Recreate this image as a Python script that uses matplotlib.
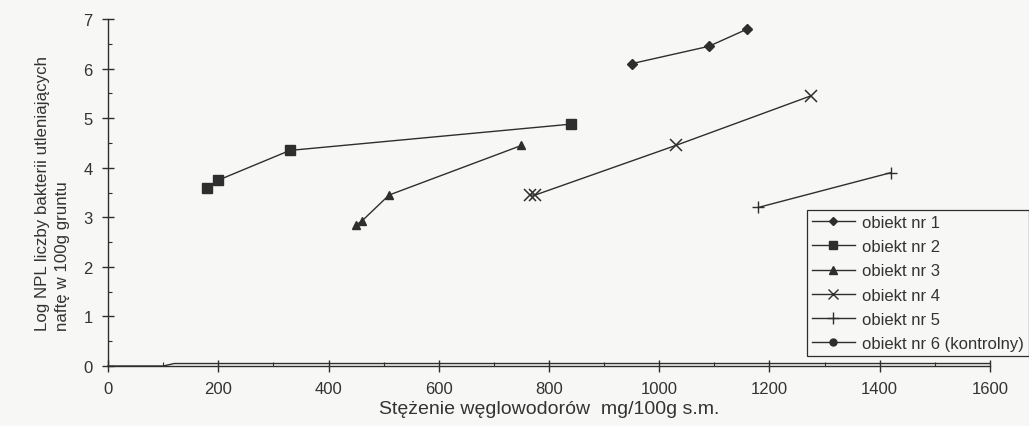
import numpy as np
import matplotlib
matplotlib.use('Agg')
import matplotlib.pyplot as plt
from matplotlib.lines import Line2D
from matplotlib.ticker import MultipleLocator

plt.rcParams['font.family'] = ['Liberation Sans', 'DejaVu Sans']

# dane
ob1_x = [950, 1090, 1160]
ob1_y = [6.1, 6.45, 6.8]
ob2_x = [180, 200, 330, 840]
ob2_y = [3.6, 3.75, 4.35, 4.88]
ob3_x = [450, 460, 510, 750]
ob3_y = [2.85, 2.92, 3.45, 4.45]
ob4_x = [765, 775, 1030, 1275]
ob4_y = [3.45, 3.45, 4.45, 5.45]
ob5_x = [1180, 1420]
ob5_y = [3.2, 3.9]
ob6_x = [0, 100, 120, 1600]
ob6_y = [0.0, 0.0, 0.05, 0.05]

labels = ['obiekt nr 1', 'obiekt nr 2', 'obiekt nr 3', 'obiekt nr 4',
          'obiekt nr 5', 'obiekt nr 6 (kontrolny)']

bg = '#f7f7f5'
ink = '#2e2e2e'
txt = '#333333'

fig = plt.figure(figsize=(10.29, 4.27), dpi=100, facecolor=bg)
ax = fig.add_axes([0.105, 0.1405, 0.857, 0.8125], facecolor=bg)

ax.plot(ob1_x, ob1_y, color=ink, lw=1.0, marker='D', ms=5, mfc=ink, mec=ink)
ax.plot(ob2_x, ob2_y, color=ink, lw=1.0, marker='s', ms=6.5, mfc=ink, mec=ink)
ax.plot(ob3_x, ob3_y, color=ink, lw=1.0, marker='^', ms=6, mfc=ink, mec=ink)
ax.plot(ob4_x, ob4_y, color=ink, lw=1.0, marker='x', ms=8, mew=1.1, mec=ink)
ax.plot(ob5_x, ob5_y, color=ink, lw=1.0, marker='+', ms=9, mew=1.0, mec=ink)
ax.plot(ob6_x, ob6_y, color=ink, lw=1.0, clip_on=False)

ax.set_xlim(0, 1600)
ax.set_ylim(0, 7)
ax.xaxis.set_major_locator(MultipleLocator(200))
ax.xaxis.set_minor_locator(MultipleLocator(100))
ax.yaxis.set_major_locator(MultipleLocator(1))
ax.yaxis.set_minor_locator(MultipleLocator(0.5))

for s in ['top', 'right']:
    ax.spines[s].set_visible(False)
for s in ['left', 'bottom']:
    ax.spines[s].set_color(ink)
    ax.spines[s].set_linewidth(1.0)

ax.tick_params(which='major', direction='inout', length=8, width=1.0, color=ink,
               labelsize=12, labelcolor=txt)
ax.tick_params(which='minor', direction='in', length=3, width=0.8, color=ink)
ax.tick_params(axis='x', pad=7)
ax.tick_params(axis='y', pad=7)

ax.set_xlabel('Stężenie węglowodorów  mg/100g s.m.', fontsize=14, color=txt, labelpad=3)
ax.set_ylabel('Log NPL liczby bakterii utleniających\nnaftę w 100g gruntu', fontsize=12.2,
              color=txt, labelpad=10, linespacing=1.35)
ax.yaxis.label.set_multialignment('left')

handles = [
    Line2D([], [], color=ink, lw=1.0, marker='D', ms=4, mfc=ink, mec=ink),
    Line2D([], [], color=ink, lw=1.0, marker='s', ms=6, mfc=ink, mec=ink),
    Line2D([], [], color=ink, lw=1.0, marker='^', ms=6, mfc=ink, mec=ink),
    Line2D([], [], color=ink, lw=1.0, marker='x', ms=7, mew=1.0, mec=ink),
    Line2D([], [], color=ink, lw=1.0, marker='+', ms=8, mew=1.0, mec=ink),
    Line2D([], [], color=ink, lw=1.0, marker='o', ms=5, mfc=ink, mec=ink),
]
leg = ax.legend(handles, labels, loc='lower left', bbox_to_anchor=(0.784, 0.164),
                bbox_transform=fig.transFigure, fontsize=12, frameon=True,
                fancybox=False, edgecolor=ink, facecolor=bg, framealpha=1,
                handlelength=2.6, handletextpad=0.4, labelspacing=0.55,
                borderpad=0.3, borderaxespad=0)
leg.get_frame().set_linewidth(0.9)
for t in leg.get_texts():
    t.set_color(txt)

fig.savefig('out.png', dpi=100, facecolor=bg)
